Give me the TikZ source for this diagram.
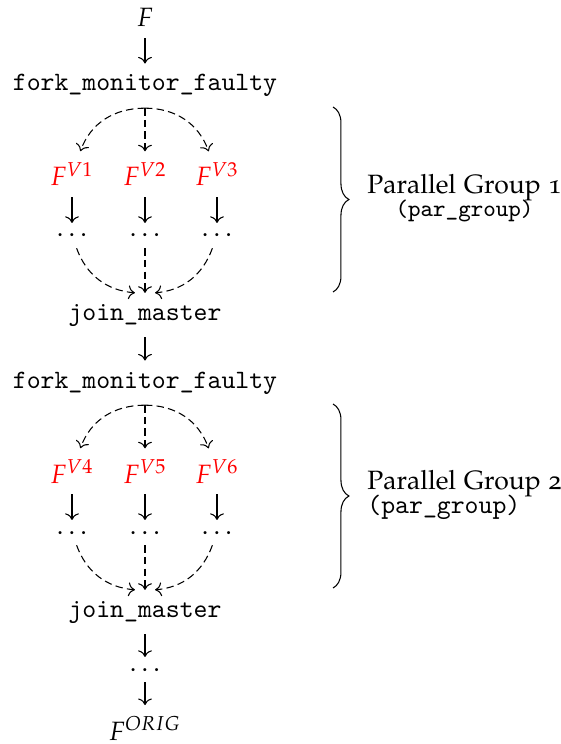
\documentclass[tikz,border=0pt]{standalone}
\usepackage[OT1]{fontenc}
\usepackage[osf]{mathpazo}
\usetikzlibrary{cd,decorations.pathreplacing}
\newcommand{\code}[1]{{\fontencoding{TU}\fontfamily{lmtt}\selectfont\detokenize{#1}}}
\tikzset{
	cell/.style={inner xsep=2pt, inner ysep=4pt, anchor=base},
	fk/.style={->, dash pattern=on 2.8pt off 1.6pt},
	grp/.style={decorate, decoration={brace, amplitude=6pt}},
}
\begin{document}
\begin{tikzpicture}[>={cm to}, x=0.3774pt, y=-0.3774pt]
	\useasboundingbox (0,0) rectangle (560,744);
	\node[cell] (src) at (145,27) {$F$};
	\node[cell] (fk1) at (145,91) {\code{fork_monitor_faulty}};
	\node[cell, red] (v1) at (72,186) {$F^{V1}$};
	\node[cell, red] (v2) at (145,186) {$F^{V2}$};
	\node[cell, red] (v3) at (217,186) {$F^{V3}$};
	\node[cell] (d1) at (72,237) {$\dots$};
	\node[cell] (d2) at (145,237) {$\dots$};
	\node[cell] (d3) at (217,237) {$\dots$};
	\node[cell] (jm1) at (145,320) {\code{join_master}};
	\node[cell] (fk2) at (145,388) {\code{fork_monitor_faulty}};
	\node[cell, red] (v4) at (72,483) {$F^{V4}$};
	\node[cell, red] (v5) at (145,483) {$F^{V5}$};
	\node[cell, red] (v6) at (217,483) {$F^{V6}$};
	\node[cell] (d4) at (72,534) {$\dots$};
	\node[cell] (d5) at (145,534) {$\dots$};
	\node[cell] (d6) at (217,534) {$\dots$};
	\node[cell] (jm2) at (145,617) {\code{join_master}};
	\node[cell] (d7) at (145,671) {$\dots$};
	\node[cell] (orig) at (145,740) {$F^{ORIG}$};

	\draw[->] (src) -- (fk1);
	\draw[fk] (fk1.south) to[out=180, in=70] (v1);
	\draw[fk] (fk1) -- (v2);
	\draw[fk] (fk1.south) to[out=0, in=110] (v3);
	\draw[->] (v1) -- (d1);
	\draw[->] (v2) -- (d2);
	\draw[->] (v3) -- (d3);
	\draw[fk] (d1) to[out=-70, in=175] ([xshift=-3.8pt]jm1.north);
	\draw[fk] (d2) -- (jm1);
	\draw[fk] (d3) to[out=-110, in=5] ([xshift=3.8pt]jm1.north);
	\draw[->] (jm1) -- (fk2);
	\draw[fk] (fk2.south) to[out=180, in=70] (v4);
	\draw[fk] (fk2) -- (v5);
	\draw[fk] (fk2.south) to[out=0, in=110] (v6);
	\draw[->] (v4) -- (d4);
	\draw[->] (v5) -- (d5);
	\draw[->] (v6) -- (d6);
	\draw[fk] (d4) to[out=-70, in=175] ([xshift=-3.8pt]jm2.north);
	\draw[fk] (d5) -- (jm2);
	\draw[fk] (d6) to[out=-110, in=5] ([xshift=3.8pt]jm2.north);
	\draw[->] (jm2) -- (d7);
	\draw[->] (d7) -- (orig);

	\draw[grp] (333,107) -- (333,292);
	\node[anchor=west, align=center] (pg1) at (358,198) {Parallel Group 1\\[-3pt]{\small\code{(par_group)}}};
	\draw[grp] (333,404) -- (333,588);
	\node[anchor=west, align=left] (pg2) at (358,495) {Parallel Group 2\\[-3pt]\code{(par_group)}};
\end{tikzpicture}
\end{document}
